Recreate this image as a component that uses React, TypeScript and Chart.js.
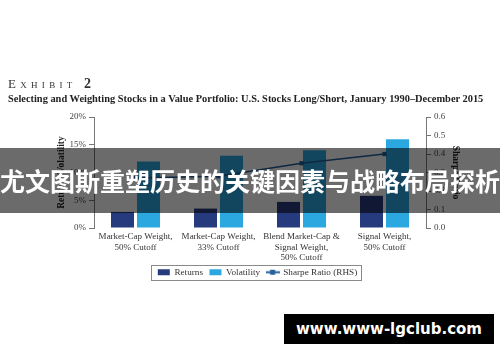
import React, { useEffect, useRef } from "react";
import { Chart, registerables } from "chart.js";

Chart.register(...registerables);

// ---- data ----
const categories: string[][] = [
  ["Market-Cap Weight,", "50% Cutoff"],
  ["Market-Cap Weight,", "33% Cutoff"],
  ["Blend Market-Cap &", "Signal Weight,", "50% Cutoff"],
  ["Signal Weight,", "50% Cutoff"],
];
const returnsData: number[] = [2.9, 3.5, 4.7, 5.8];
const volatilityData: number[] = [12.0, 13.0, 14.0, 16.0];
const sharpeData: number[] = [0.27, 0.28, 0.35, 0.4];
const seriesNames: string[] = ["Returns", "Volatility", "Sharpe Ratio (RHS)"];
const leftAxisTitle = "Returns/Volatility";
const rightAxisTitle = "Sharpe Ratio";
const titleWord = "Exhibit";
const titleNumber = "2";
const subtitleText =
  "Selecting and Weighting Stocks in a Value Portfolio: U.S. Stocks Long/Short, January 1990\u2013December 2015";
const bannerText = "尤文图斯重塑历史的关键因素与战略布局探析";
const watermarkText = "www.www-lgclub.com";

// ---- styles ----
const SERIF = '"Liberation Serif", "Times New Roman", Times, serif';
const RETURNS_COLOR = "#263b7d";
const VOL_COLOR = "#2ba8e0";
const SHARPE_COLOR = "#23609c";
const AXIS_COLOR = "#777777";

const legendBorder = {
  id: "legendBorder",
  afterDraw(chart: any) {
    const lg = chart.legend;
    if (!lg || !lg.legendHitBoxes || !lg.legendHitBoxes.length) return;
    const hb = lg.legendHitBoxes;
    const l = Math.min(...hb.map((h: any) => h.left)) - 7;
    const r = Math.max(...hb.map((h: any) => h.left + h.width)) + 4;
    const t = Math.min(...hb.map((h: any) => h.top)) - 3;
    const b = Math.max(...hb.map((h: any) => h.top + h.height)) + 3;
    const ctx = chart.ctx;
    ctx.save();
    ctx.strokeStyle = "#8a8a8a";
    ctx.lineWidth = 1;
    ctx.strokeRect(Math.round(l) + 0.5, Math.round(t) + 0.5, Math.round(r - l), Math.round(b - t));
    ctx.restore();
  },
};

export default function App() {
  const canvasRef = useRef<HTMLCanvasElement | null>(null);

  useEffect(() => {
    const canvas = canvasRef.current;
    if (!canvas) return;

    const lineImg = document.createElement("canvas");
    lineImg.width = 14;
    lineImg.height = 7;
    const lc = lineImg.getContext("2d");
    if (lc) {
      lc.strokeStyle = SHARPE_COLOR;
      lc.lineWidth = 2;
      lc.beginPath();
      lc.moveTo(0, 3.5);
      lc.lineTo(14, 3.5);
      lc.stroke();
      lc.fillStyle = SHARPE_COLOR;
      lc.fillRect(4.5, 1, 5, 5);
    }
    const legendColors = [RETURNS_COLOR, VOL_COLOR, SHARPE_COLOR];

    const chart = new Chart(canvas, {
      type: "bar",
      data: {
        labels: categories as any,
        datasets: [
          {
            type: "bar",
            label: seriesNames[0],
            data: returnsData,
            backgroundColor: RETURNS_COLOR,
            borderWidth: 0,
            barPercentage: 0.885,
            categoryPercentage: 0.627,
            yAxisID: "y",
            order: 1,
          },
          {
            type: "bar",
            label: seriesNames[1],
            data: volatilityData,
            backgroundColor: VOL_COLOR,
            borderWidth: 0,
            barPercentage: 0.885,
            categoryPercentage: 0.627,
            yAxisID: "y",
            order: 1,
          },
          {
            type: "line",
            label: seriesNames[2],
            data: sharpeData,
            borderColor: SHARPE_COLOR,
            backgroundColor: SHARPE_COLOR,
            borderWidth: 1.5,
            pointStyle: "rect",
            pointRadius: 3,
            pointBackgroundColor: SHARPE_COLOR,
            pointBorderWidth: 0,
            yAxisID: "y1",
            order: 0,
          } as any,
        ],
      },
      options: {
        responsive: false,
        animation: false,
        events: [],
        layout: { padding: { left: 15, right: 0, top: 117, bottom: 75.2 } },
        plugins: {
          tooltip: { enabled: false },
          title: { display: false },
          legend: {
            display: true,
            position: "bottom",
            labels: {
              font: { family: SERIF, size: 9.2 },
              color: "#333333",
              usePointStyle: true,
              pointStyleWidth: 12,
              boxHeight: 6,
              padding: 6.5,
              sort: (a: any, b: any) => a.datasetIndex - b.datasetIndex,
              generateLabels: (c: any) => {
                const items = (Chart.defaults.plugins.legend.labels as any).generateLabels(c);
                return items.map((it: any) => ({
                  ...it,
                  pointStyle: it.datasetIndex === 2 ? lineImg : "rect",
                  fillStyle: legendColors[it.datasetIndex],
                  strokeStyle: legendColors[it.datasetIndex],
                  lineWidth: 0,
                }));
              },
            },
          },
        },
        scales: {
          x: {
            grid: { display: false, drawTicks: false },
            border: { display: false },
            ticks: {
              font: { family: SERIF, size: 9 },
              color: "#333333",
              padding: 3,
              maxRotation: 0,
              autoSkip: false,
            },
            afterFit: (s: any) => {
              s.height = 33.1;
            },
          },
          y: {
            position: "left",
            min: 0,
            max: 20,
            ticks: {
              stepSize: 5,
              callback: (v: any) => `${v}%`,
              font: { family: SERIF, size: 9 },
              color: "#444444",
              padding: 3,
            },
            grid: { drawOnChartArea: false, drawTicks: true, tickLength: 5, color: AXIS_COLOR },
            border: { display: true, color: AXIS_COLOR, width: 1 },
            title: {
              display: true,
              text: leftAxisTitle,
              font: { family: SERIF, size: 9.5, weight: "bold" },
              color: "#222222",
              padding: { top: 41, bottom: 0 },
            },
            afterFit: (s: any) => {
              s.width = 79;
            },
          },
          y1: {
            position: "right",
            min: 0,
            max: 0.6,
            ticks: {
              stepSize: 0.1,
              callback: (v: any) => Number(v).toFixed(1),
              font: { family: SERIF, size: 9 },
              color: "#444444",
              padding: 3,
            },
            grid: { drawOnChartArea: false, drawTicks: true, tickLength: 5, color: AXIS_COLOR },
            border: { display: true, color: AXIS_COLOR, width: 1 },
            title: {
              display: true,
              text: rightAxisTitle,
              font: { family: SERIF, size: 9.5, weight: "bold" },
              color: "#222222",
              padding: { top: 39.3, bottom: 0 },
            },
            afterFit: (s: any) => {
              s.width = 74;
            },
          },
        },
      },
      plugins: [legendBorder],
    } as any);

    return () => {
      chart.destroy();
    };
  }, []);

  return (
    <div
      style={{
        position: "absolute",
        left: 0,
        top: 0,
        width: 500,
        height: 362,
        background: "#ffffff",
        overflow: "hidden",
      }}
    >
      <canvas
        ref={canvasRef}
        width={500}
        height={362}
        style={{ position: "absolute", left: 0, top: 0, width: 500, height: 362 }}
      />
      <div
        style={{
          position: "absolute",
          left: 8,
          top: 77,
          fontFamily: SERIF,
          fontSize: 13,
          lineHeight: "13px",
          fontVariant: "small-caps",
          letterSpacing: 4.3,
          color: "#333333",
          whiteSpace: "nowrap",
        }}
      >
        {titleWord} <b style={{ fontSize: 14 }}>{titleNumber}</b>
      </div>
      <div
        style={{
          position: "absolute",
          left: 8,
          top: 93.8,
          fontFamily: SERIF,
          fontSize: 10.4,
          lineHeight: "10.4px",
          fontWeight: "bold",
          color: "#222222",
          whiteSpace: "nowrap",
        }}
      >
        {subtitleText}
      </div>
      <div
        style={{
          position: "absolute",
          left: 0,
          top: 148,
          width: 500,
          height: 65,
          background: "rgba(0,0,0,0.58)",
          display: "flex",
          alignItems: "center",
          justifyContent: "center",
          overflow: "visible",
        }}
      >
        <span
          style={{
            fontFamily: '"Noto Sans CJK SC", "Noto Sans", sans-serif',
            fontWeight: "bold",
            fontSize: 25,
            lineHeight: "25px",
            color: "#ffffff",
            whiteSpace: "nowrap",
          }}
        >
          {bannerText}
        </span>
      </div>
      <div
        style={{
          position: "absolute",
          left: 284,
          top: 314,
          width: 210,
          height: 30,
          background: "#000000",
          display: "flex",
          alignItems: "center",
          justifyContent: "center",
        }}
      >
        <span
          style={{
            fontFamily: '"DejaVu Sans", Verdana, sans-serif',
            fontWeight: "bold",
            fontSize: 15,
            lineHeight: "15px",
            color: "#ffffff",
            whiteSpace: "nowrap",
          }}
        >
          {watermarkText}
        </span>
      </div>
    </div>
  );
}
